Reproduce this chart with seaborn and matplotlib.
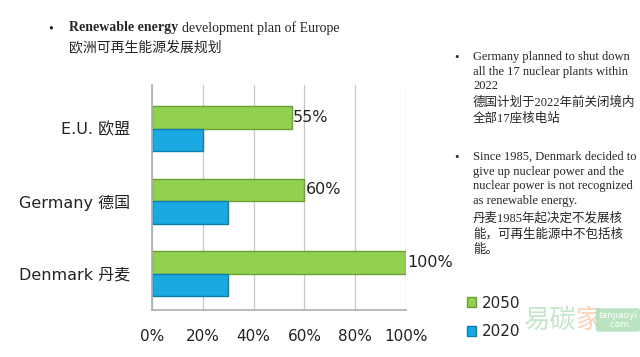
import matplotlib
matplotlib.use('Agg')
import matplotlib.pyplot as plt
import seaborn as sns
import pandas as pd

# data
countries = ['E.U. 欧盟', 'Germany 德国', 'Denmark 丹麦']
years = ['2050', '2020']
share_2050 = [55, 60, 100]
share_2020 = [20, 30, 30]
xticks = [0, 20, 40, 60, 80, 100]

df = pd.DataFrame({
    'country': countries * 2,
    'year': ['2050'] * 3 + ['2020'] * 3,
    'share': share_2050 + share_2020,
})

sns.set_theme(style='white')
plt.rcParams['font.family'] = ['DejaVu Sans', 'Noto Sans CJK SC']

fig = plt.figure(figsize=(6.4, 3.57), dpi=100)
ax = fig.add_axes([152 / 640, 1 - 310 / 357, 254 / 640, 225 / 357])

sns.barplot(data=df, x='share', y='country', hue='year', order=countries,
            hue_order=years, palette=['#92d050', '#1ba9e1'], saturation=1,
            width=0.62, orient='h', ax=ax)

# darker outline on each series, a bit like the 3D bars
for cont, ec in zip(ax.containers, ['#6a9f32', '#0b7fae']):
    for p in cont:
        p.set_edgecolor(ec)
        p.set_linewidth(1.0)

ax.bar_label(ax.containers[0], fmt='%d%%', padding=1, fontsize=11.5,
             color='#222222', clip_on=False)

ax.set_xlim(0, 100)
ax.set_ylim(2.5, -0.6)
ax.set_xticks(xticks)
ax.set_xticklabels([f'{t}%' for t in xticks], fontsize=11, color='#222222')
ax.tick_params(axis='y', labelsize=11.5, labelcolor='#222222', pad=10)
ax.tick_params(axis='x', pad=8)
ax.set_xlabel('')
ax.set_ylabel('')
ax.grid(axis='x', color='#c8c8c8', linewidth=0.9)
ax.set_axisbelow(True)
for s in ['top', 'right']:
    ax.spines[s].set_visible(False)
for s in ['left', 'bottom']:
    ax.spines[s].set_color('#b0b0b0')

ax.legend_.remove()
fig.legend(handles=[ax.containers[0][0], ax.containers[1][0]], labels=years,
           loc='lower left', bbox_to_anchor=(453 / 640, 4 / 357), frameon=False,
           fontsize=11, handlelength=0.6, handleheight=0.6, handletextpad=0.4,
           labelspacing=0.9)

serif = ['Liberation Serif', 'Noto Sans CJK SC']

# heading
fig.text(48 / 640, 1 - 29 / 357, '•', fontsize=10, va='center', family=serif)
fig.text(69 / 640, 1 - 28 / 357, 'Renewable energy', fontsize=10, va='center',
         fontweight='bold', family=serif)
fig.text(182 / 640, 1 - 28 / 357, 'development plan of Europe', fontsize=10,
         va='center', family=serif)
fig.text(69 / 640, 1 - 47 / 357, '欧洲可再生能源发展规划', fontsize=10, va='center',
         family=['Noto Sans CJK SC'])

# side notes
fig.text(454 / 640, 1 - 58 / 357, '•', fontsize=9, va='center', family=serif)
fig.text(473 / 640, 1 - 51 / 357,
         'Germany planned to shut down\nall the 17 nuclear plants within\n2022',
         fontsize=9, va='top', linespacing=1.3, family=serif)
fig.text(473 / 640, 1 - 96 / 357, '德国计划于2022年前关闭境内\n全部17座核电站',
         fontsize=9, va='top', linespacing=1.4, family=serif)

fig.text(454 / 640, 1 - 158 / 357, '•', fontsize=9, va='center', family=serif)
fig.text(473 / 640, 1 - 151 / 357,
         'Since 1985, Denmark decided to\ngive up nuclear power and the\n'
         'nuclear power is not recognized\nas renewable energy.',
         fontsize=9, va='top', linespacing=1.3, family=serif)
fig.text(473 / 640, 1 - 212 / 357, '丹麦1985年起决定不发展核\n能，可再生能源中不包括核\n能。',
         fontsize=9, va='top', linespacing=1.4, family=serif)

# watermark, kept to the right of the legend labels
fig.text(524 / 640, 1 - 320 / 357, '易碳', fontsize=19, color='#9fd8a6', alpha=0.6,
         va='center', family=['Noto Sans CJK SC'], zorder=0)
fig.text(575 / 640, 1 - 320 / 357, '家', fontsize=19, color='#f4c19c', alpha=0.7,
         va='center', family=['Noto Sans CJK SC'], zorder=0)
fig.text(618 / 640, 1 - 320 / 357, 'tanjiaoyi\n.com', fontsize=6.5, color='white',
         ha='center', va='center', linespacing=1.0, zorder=0,
         bbox=dict(boxstyle='round,pad=0.3', fc='#a9dcb3', ec='none', alpha=0.8))

fig.savefig('out.png', dpi=100)
